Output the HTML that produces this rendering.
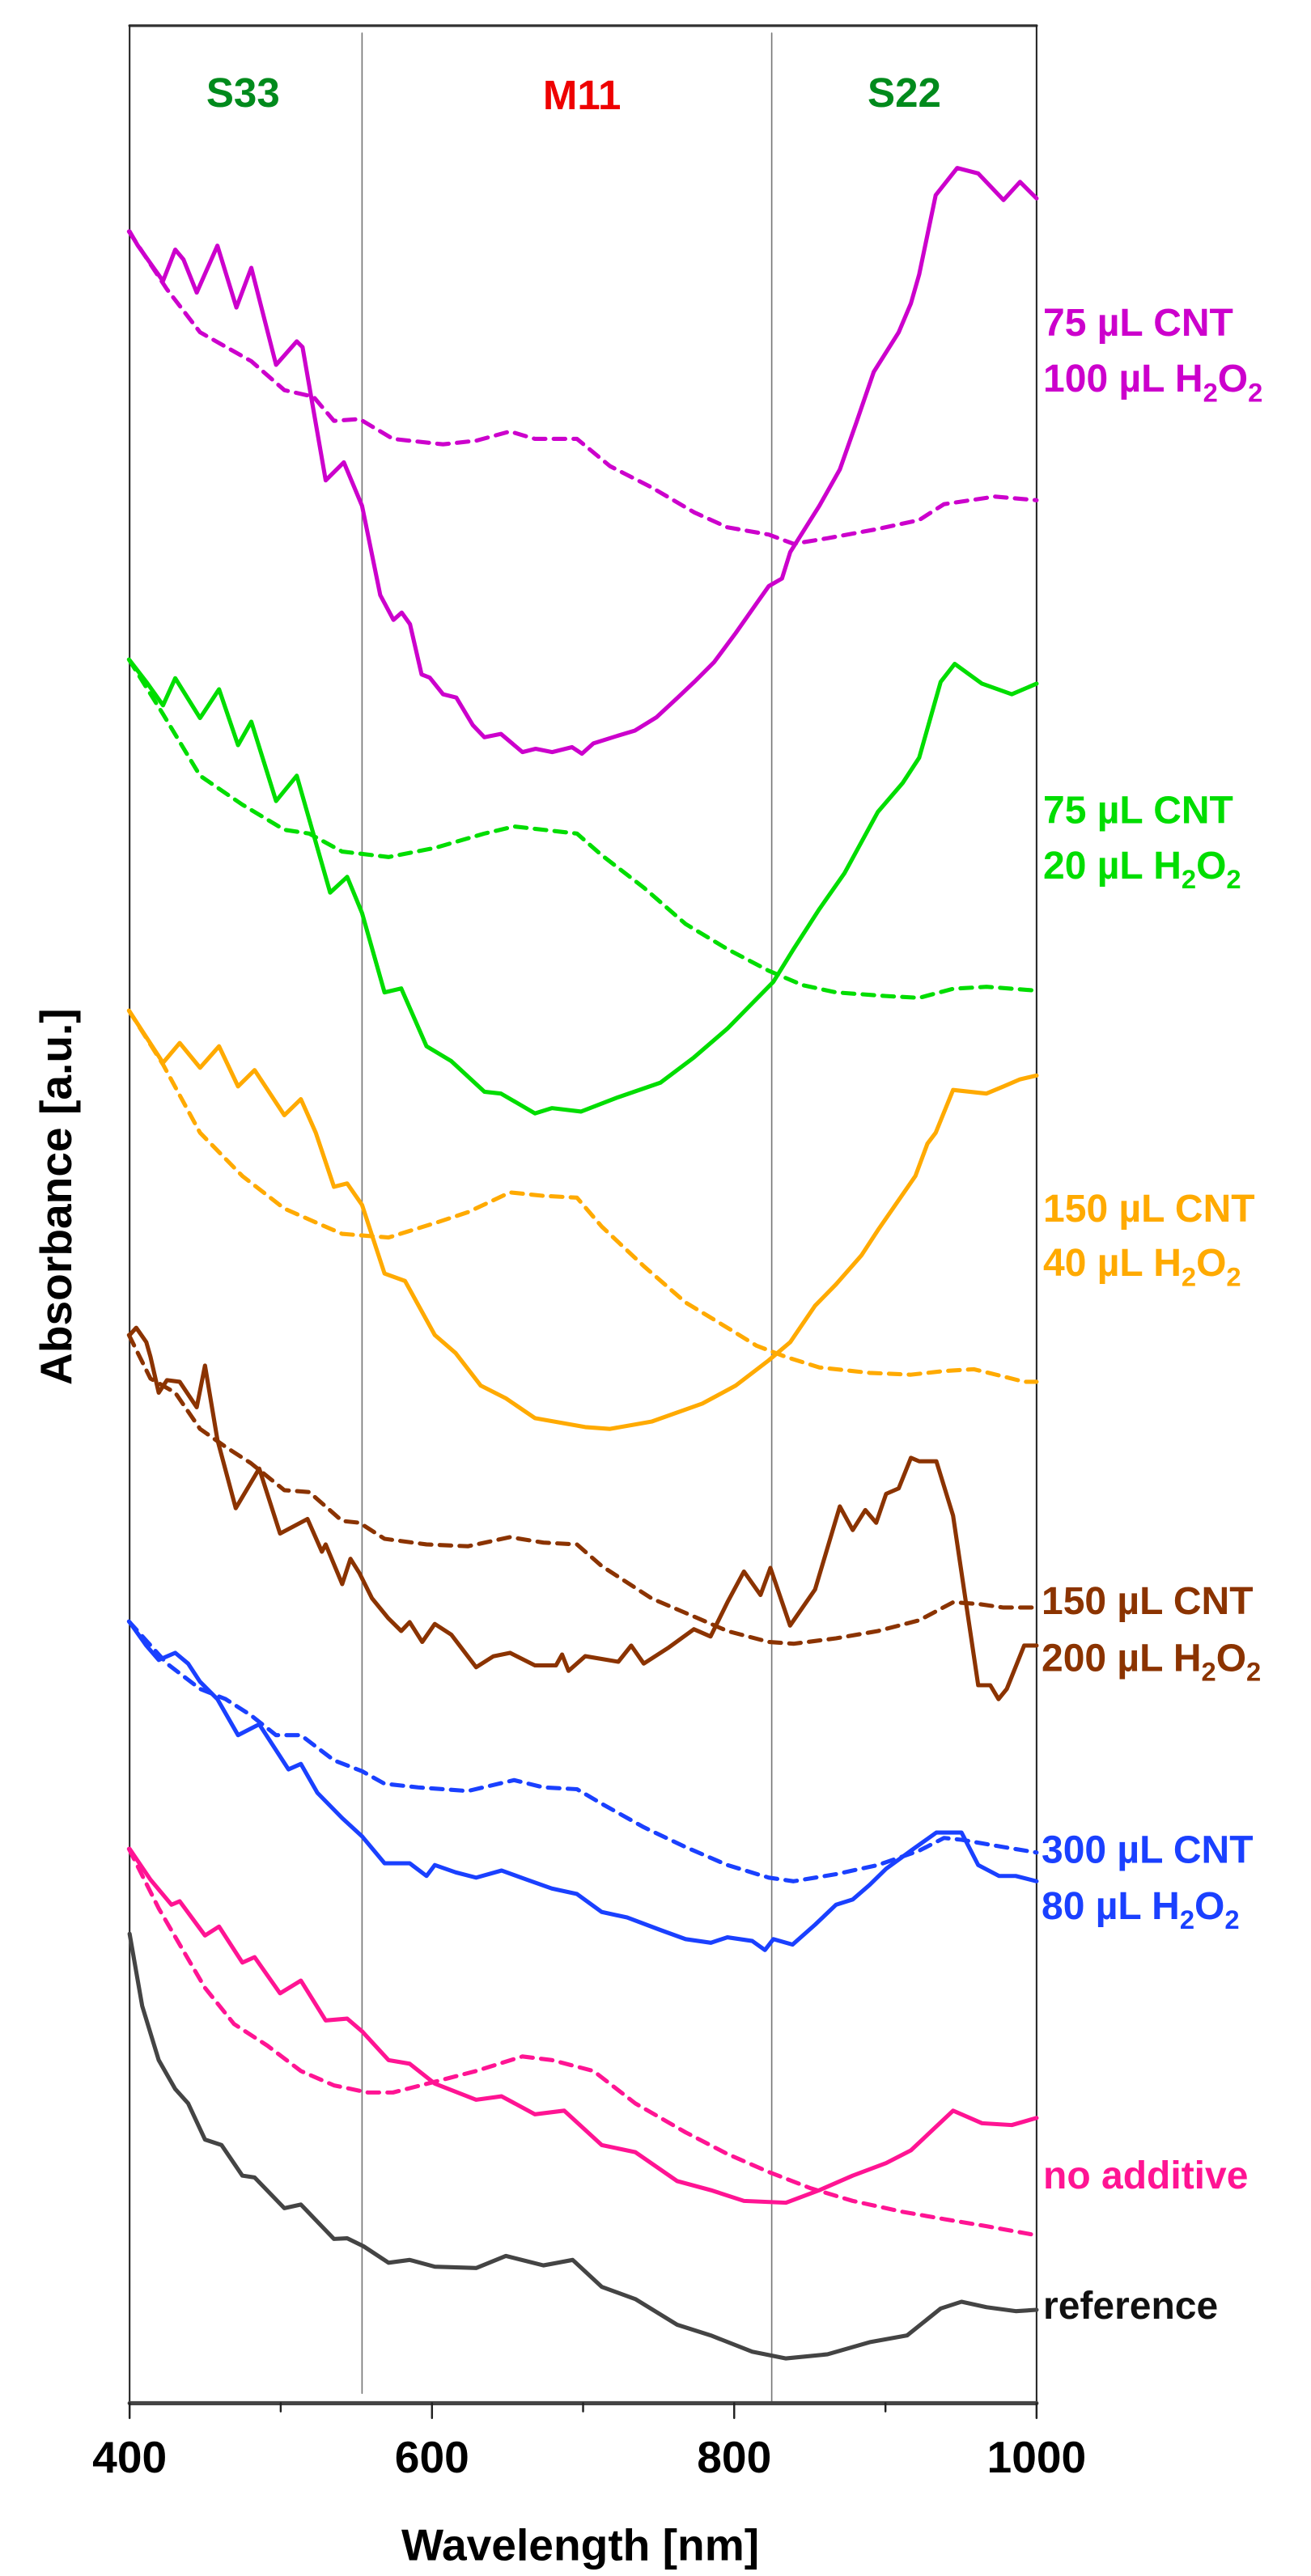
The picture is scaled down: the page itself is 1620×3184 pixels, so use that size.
<!DOCTYPE html>
<html><head><meta charset="utf-8"><style>
html,body{margin:0;padding:0;background:#fff;}
svg{display:block;}
text{font-family:"Liberation Sans",Arial,sans-serif;font-weight:bold;}
</style></head><body>
<svg width="1620" height="3184" viewBox="0 0 793 1558.5" xmlns="http://www.w3.org/2000/svg">
<g fill="none" stroke-linejoin="round" stroke-linecap="round">
<line x1="78.4" y1="15.5" x2="627" y2="15.5" stroke="#333" stroke-width="1.6"/>
<line x1="78.4" y1="15.5" x2="78.4" y2="1454" stroke="#222" stroke-width="1"/>
<line x1="627" y1="15.5" x2="627" y2="1454" stroke="#222" stroke-width="1"/>
<line x1="219" y1="20" x2="219" y2="1448" stroke="#777" stroke-width="0.8"/>
<line x1="466.8" y1="20" x2="466.8" y2="1454" stroke="#777" stroke-width="0.8"/>
<line x1="78.4" y1="1454" x2="627" y2="1454" stroke="#444" stroke-width="2.5"/>
<path d="M78.4 1454v9M169.8 1454v5M261.3 1454v9M352.7 1454v5M444.1 1454v9M535.6 1454v5M627 1454v9" stroke="#222" stroke-width="1.2"/>

<g stroke-width="2.5">
<polyline stroke="#cc00cc" points="78.4,140 83.4,148.6 98.6,170 106,151 111,157 119,177 131.5,148.6 143,186 152,162 167,220.7 179.5,206.5 183,210 197,290.6 208,279.7 219,306 230,360 238,375 243,370.6 248,377.6 255,408 260,410 268,420 276,422 286,438.7 293,446 303,444 316,455 324,453 334,455 346,452 352,456 359,449.7 374,445 384,442 397,434 410,422 420,412.5 432,400.5 445,383 458,364.5 465,354.6 473,350 478,334 495.6,306 508,284 518,255.6 528.5,225 543.6,201 551,183.5 556,166 566,118 579,101.6 591.7,104.9 607,121 617,110 627,120"/>
<polyline stroke="#cc00cc" stroke-dasharray="7,5" points="78,140 101,175 121,201 152,218.5 172,236 189.6,240 202,254.6 217.5,253.5 237.7,265.5 268,268.8 288,266.6 308.5,261 323.6,265.5 349,265.5 369,282 394.4,295 420,310 440,319 465,323.4 480,329 500.6,325.6 531,320 556,314.6 571,305 601.8,300.4 627,302.6"/>

<polyline stroke="#00dd00" points="78.4,399.4 88.5,412.5 98.6,426.7 106,410.3 121,434.4 132.5,417 144,450.8 152,436.6 167,484.6 179.5,469.3 199.7,540 210,530.5 219,552.4 232.6,600.4 242.7,598 258,633 273,642 293,660.5 303,661.6 323.6,673.6 333.8,670.4 351.5,672.5 374,663.8 399.5,655 419.7,639.8 440,622.3 455,607 467.8,594 480,574.2 495.6,550 510.8,528.3 531,491.2 546,473.7 556,458.4 569,412.5 577.5,401.6 594,413.6 612,420 627,413.6"/>
<polyline stroke="#00dd00" stroke-dasharray="7,5" points="78,399 98.6,432 121,469.3 146.6,486.8 172,502 187,504.3 207,515.2 235,518.5 263,513 293,504.3 311,500 349,504.3 364,517.4 389.4,537 414.7,559 440,574.2 465,587.3 485.5,596 505.7,600.4 536,602.6 556,603.7 576.5,598.2 596.7,597 627,599.3"/>

<polyline stroke="#ffaa00" points="78.4,612 98.6,643 108.7,631 121,646 132.5,633 144,657.3 154,647.4 172,674.7 182,665 191,685.3 202,718 210,716 219,729 232.6,770.5 245,775 263,807.7 275.6,818.6 290.8,838.3 306,846 323.6,858 354,863.4 369,864.5 394.4,860 424.8,849.2 445,838.3 465,823 478,812 493,790 505.7,777 521,759.6 531,744.3 553.7,711.5 561,691.9 566,685.3 576.5,659.4 596.7,661.6 607,657.3 617,653 627,650.7"/>
<polyline stroke="#ffaa00" stroke-dasharray="7,5" points="78,611.4 98.6,644 121,685.3 146.6,711.5 172,731.2 192,740 207,746.5 235,748.7 263,740 283,733.4 308.5,721.4 328.7,723.5 349,724.6 364,742.1 389.4,766 414.7,788 440,803.3 457.7,814.2 475,820.8 495.6,827.3 526,830.6 551,831.7 571,829.5 589,828.4 607,832.8 619.5,836 627,836"/>

<polyline stroke="#8b3300" points="78.4,807.7 82.4,803.3 88.5,812 91,820.8 96,842.6 101,835 108.7,836 119,851.4 124,826.2 131.5,871 142.6,912.5 156.8,888.5 169.4,927.8 186,919 194.7,938.8 197,934.4 207,958.4 212,943.1 217.5,951.9 225,967 235,979.2 242.7,986.8 247.8,981.4 255.4,993.4 263,982.5 273,989 288,1008.7 298.4,1002.1 308.5,1000 323.6,1007.6 336.3,1007.6 340,1001 343.9,1010.9 354,1002 374,1005.4 381.8,995.6 389.4,1006.5 404.6,996.7 419.7,985.7 429.8,990.1 440,969.4 450,950.8 460,965 466,948.6 477.9,983.5 493,961.7 508,911.4 515.8,925.7 523.4,913.6 530,921.3 536,903.8 543.6,900.5 551,882 556,884.1 566.4,884.1 576.5,917 591.7,1019.6 599,1019.6 604,1028 609,1021.8 619.5,995.6 627,995.6"/>
<polyline stroke="#8b3300" stroke-dasharray="7,5" points="78,807.7 91,834 106,842.6 121,864.5 136.5,875.4 151.7,885.2 172,901.6 187,902.7 207,920.2 217.5,921.3 232.6,931 258,934.4 283,935.5 308.5,930 328.7,933.3 349,934.4 364,947.5 394.4,967.2 419.7,978 440,986.8 465,993.4 480,994.5 505.7,991.2 531,986.8 556,980.3 576.5,969.4 591.7,970.4 607,972.6 627,972.6"/>

<polyline stroke="#1a40ff" points="78.4,981.4 88.5,995.6 96,1004.3 106,1000 113.8,1006.5 121,1017.5 131.5,1028 144,1049.8 156.8,1043.2 174.5,1070.5 182,1067.2 192,1084.7 207,1100 219,1111 232.6,1127.3 247.8,1127.3 258,1135 263,1128.4 275.6,1132.8 288,1136 303.4,1131.7 318.6,1137.2 333.8,1142.6 349,1145.9 364,1156.8 379.3,1160.1 399.5,1167.7 414.7,1173.2 430,1175.4 440,1172.1 455,1174.3 462.7,1179.8 467.8,1173.2 479.4,1176.5 493,1164.5 505.7,1152.4 515.8,1149.2 526,1140.4 536,1130.6 551,1119.7 566.4,1108.7 581.6,1108.7 591.7,1128.4 604.3,1135 614.4,1135 627,1138.2"/>
<polyline stroke="#1a40ff" stroke-dasharray="7,5" points="78,981 101,1006.5 121,1021.8 136.5,1028 151.7,1037.7 167,1049.8 182,1049.8 202,1065 219,1071.6 232.6,1079.2 252.9,1081.4 283,1083.6 311,1077 328.7,1081.4 349,1082.5 364,1091.3 389.4,1105.5 414.7,1117.5 440,1128.4 465,1136 480,1138.2 505.7,1133.9 531,1128.4 556,1119.7 571,1112 581.6,1113.1 607,1117.5 627,1120.8"/>

<polyline stroke="#ff1493" points="78.4,1118.6 91,1137.2 103.7,1152.4 108.7,1150.3 124,1171 132.5,1165.6 146.6,1187.4 154,1184.1 169.4,1206 182,1198.3 197,1222.4 210,1221.3 219,1229 235,1246.4 247.8,1248.6 263,1260.6 288,1270.4 303.4,1268.3 323.6,1279.2 341.3,1277 364,1297.8 384.3,1302.1 409.6,1319.6 430,1325.1 450,1331.6 475.4,1332.7 495.6,1325.1 515.8,1316.3 536,1308.7 551,1301 576.5,1277 594,1284.6 612,1285.7 627,1281.4"/>
<polyline stroke="#ff1493" stroke-dasharray="7,5" points="78,1118.6 96,1154.6 108.7,1176.5 124,1202.7 141.6,1224.6 161.8,1237.7 182,1253 202,1261.7 222.5,1266 237.7,1266 263,1259.5 288,1253 316,1244.2 333.8,1246.4 359,1253 384.3,1272.6 414.7,1290.1 440,1303.2 465,1314.1 490.5,1324 515.8,1331.6 546,1338.2 571,1342.6 596.7,1346.9 627,1352.4"/>

<polyline stroke="#444" points="78.4,1170 86,1213.6 96,1246.4 106,1263.9 113.8,1272.6 124,1294.5 134,1297.8 146.6,1316.3 154,1317.4 172,1336 182,1333.8 194.7,1347 202,1354.6 210,1354.2 220,1359.1 235,1369 247.8,1367.3 263,1371.4 288,1372.2 306,1364.9 328.7,1370.6 346.4,1367.3 364,1383.6 384.3,1391 409.6,1406.5 430,1413 455,1422.8 475.4,1426.9 500.6,1424.4 526,1417.1 548.7,1413 569,1396.7 581.6,1392.6 596.7,1395.9 614.4,1398.3 627,1397.5"/>
</g>
</g>

<g font-size="25" text-anchor="middle">
<text x="147" y="64.5" fill="#008a1c">S33</text>
<text x="352" y="66" fill="#ee0000">M11</text>
<text x="547" y="64.5" fill="#008a1c">S22</text>
</g>
<g font-size="23.5">
<text x="631" y="203" fill="#cc00cc">75 µL CNT</text>
<text x="631" y="237" fill="#cc00cc">100 µL H<tspan font-size="16" dy="6">2</tspan><tspan dy="-6">O</tspan><tspan font-size="16" dy="6">2</tspan></text>
<text x="631" y="498" fill="#00dd00">75 µL CNT</text>
<text x="631" y="531.5" fill="#00dd00">20 µL H<tspan font-size="16" dy="6">2</tspan><tspan dy="-6">O</tspan><tspan font-size="16" dy="6">2</tspan></text>
<text x="631" y="739" fill="#ffaa00">150 µL CNT</text>
<text x="631" y="772" fill="#ffaa00">40 µL H<tspan font-size="16" dy="6">2</tspan><tspan dy="-6">O</tspan><tspan font-size="16" dy="6">2</tspan></text>
<text x="630" y="976.5" fill="#8b3300">150 µL CNT</text>
<text x="630" y="1011" fill="#8b3300">200 µL H<tspan font-size="16" dy="6">2</tspan><tspan dy="-6">O</tspan><tspan font-size="16" dy="6">2</tspan></text>
<text x="630" y="1127" fill="#1a40ff">300 µL CNT</text>
<text x="630" y="1161" fill="#1a40ff">80 µL H<tspan font-size="16" dy="6">2</tspan><tspan dy="-6">O</tspan><tspan font-size="16" dy="6">2</tspan></text>
<text x="631" y="1324" fill="#ff1493">no additive</text>
<text x="631" y="1403" fill="#111">reference</text>
</g>
<g font-size="27" fill="#000" text-anchor="middle">
<text x="78.4" y="1496">400</text>
<text x="261.3" y="1496">600</text>
<text x="444.1" y="1496">800</text>
<text x="627" y="1496">1000</text>
<text x="351" y="1549">Wavelength [nm]</text>
<text transform="translate(43,724) rotate(-90)">Absorbance [a.u.]</text>
</g>
</svg>
</body></html>
